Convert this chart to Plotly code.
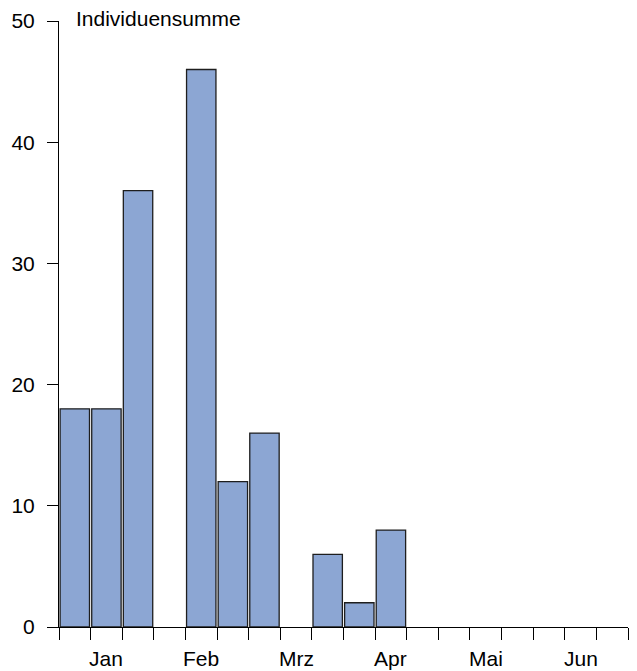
import plotly.graph_objects as go

# Ten-day periods (three per month), January to June
months = ["Jan", "Feb", "Mrz", "Apr", "Mai", "Jun"]
periods_per_month = 3
counts = [18, 18, 36, 0, 46, 12, 16, 0, 6, 2, 8, 0, 0, 0, 0, 0, 0, 0]
y_ticks = [0, 10, 20, 30, 40, 50]
y_title = "Individuensumme"

n_periods = len(counts)
bar_x = [i + 0.5 for i in range(n_periods)]
month_x = [m * periods_per_month + periods_per_month / 2 for m in range(len(months))]
# empty periods get no outline so they do not thicken the baseline
outline_widths = [1.3 if c > 0 else 0 for c in counts]

font_family = "Liberation Sans, Arial, sans-serif"
font_size = 21

fig = go.Figure()
fig.add_trace(go.Bar(
    x=bar_x,
    y=counts,
    width=0.93,
    marker=dict(color="#8ca6d3", line=dict(color="#1e1e1e", width=outline_widths)),
    hoverinfo="x+y",
))

fig.update_layout(
    width=637,
    height=671,
    margin=dict(l=59, r=9, t=21, b=44),
    paper_bgcolor="white",
    plot_bgcolor="white",
    showlegend=False,
    font=dict(family=font_family, size=font_size, color="black"),
    xaxis=dict(
        range=[0, n_periods],
        tickmode="array",
        tickvals=list(range(n_periods + 1)),
        ticktext=[""] * (n_periods + 1),
        ticks="outside",
        ticklen=12,
        tickwidth=1,
        tickcolor="black",
        showline=True,
        linecolor="black",
        linewidth=1,
        showgrid=False,
        zeroline=False,
        fixedrange=True,
    ),
    yaxis=dict(
        range=[0, 50],
        tickmode="array",
        tickvals=y_ticks,
        ticks="outside",
        ticklen=11,
        tickwidth=1,
        tickcolor="black",
        ticklabelstandoff=8,
        showline=True,
        linecolor="black",
        linewidth=1,
        showgrid=False,
        zeroline=False,
        fixedrange=True,
    ),
)

# Month names centred under each group of three periods
for label, xm in zip(months, month_x):
    fig.add_annotation(
        x=xm, y=0, xref="x", yref="y",
        text=label, showarrow=False,
        xanchor="center", yanchor="middle", yshift=-31,
        font=dict(family=font_family, size=font_size, color="black"),
    )

# Axis title placed beside the top of the y axis
fig.add_annotation(
    x=0.026, y=50, xref="paper", yref="y",
    text=y_title, showarrow=False,
    xanchor="left", yanchor="middle", yshift=3,
    font=dict(family=font_family, size=font_size, color="black"),
)

fig.write_html("out.html")
